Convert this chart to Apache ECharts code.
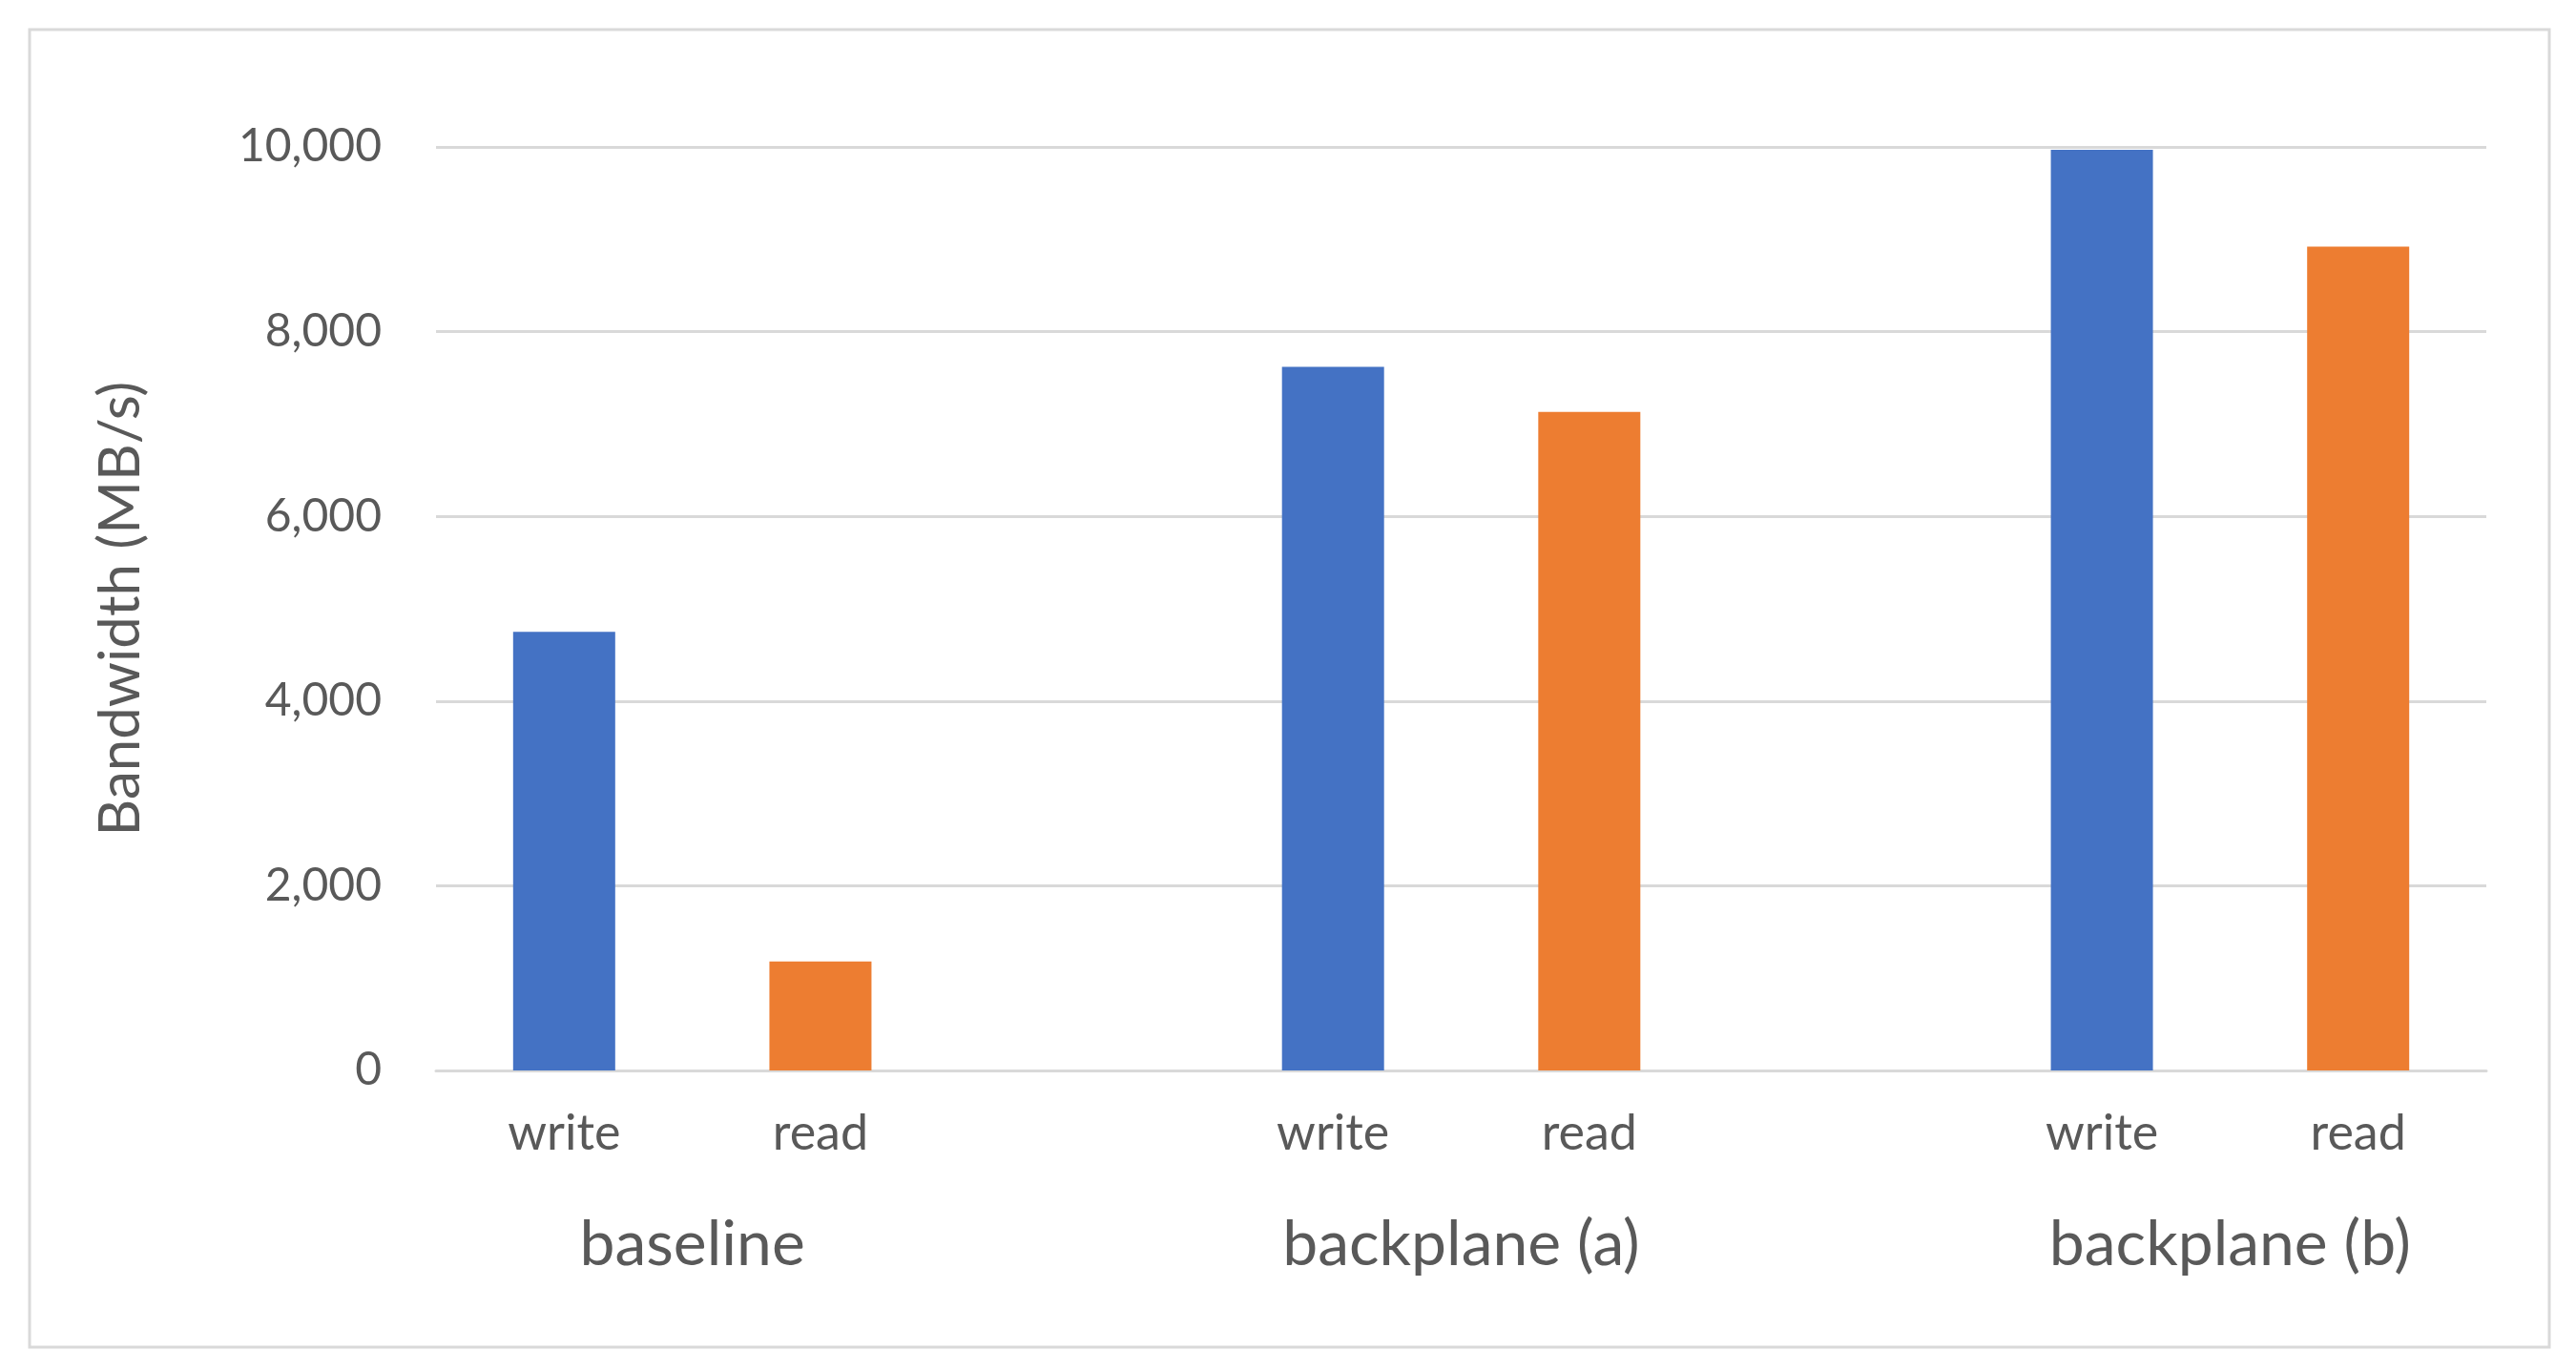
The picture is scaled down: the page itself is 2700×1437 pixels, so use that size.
<!DOCTYPE html>
<html><head><meta charset="utf-8">
<script src="https://cdn.jsdelivr.net/npm/echarts@6/dist/echarts.min.js"></script>
<style>html,body{margin:0;padding:0;background:#fff}#c{width:2700px;height:1437px}</style>
</head><body><div id="c"></div>
<script>
const slots = ['write','read','','write','read','','write','read'];
const groupLabels = ['', 'baseline', '', '', 'backplane (a)', '', '', 'backplane (b)', ''];
const writeValues = [4750, '-', '-', 7620, '-', '-', 9970, '-'];
const readValues = ['-', 1180, '-', '-', 7130, '-', '-', 8920];
const yTicks = [0, 2000, 4000, 6000, 8000, 10000];
const font = 'Lato, "Open Sans", sans-serif';
const chart = echarts.init(document.getElementById('c'));
chart.setOption({
  animation: false,
  graphic: [{type:'rect', shape:{x:31,y:31,width:2641,height:1381}, style:{fill:'none', stroke:'#D9D9D9', lineWidth:3}}],
  grid: {left:457, right:94, top:154, bottom:315},
  xAxis: [
    {type:'category', data:slots, axisTick:{show:false}, axisLine:{lineStyle:{color:'#D9D9D9',width:3}},
     axisLabel:{interval:0, margin:40, fontSize:52, color:'#595959', fontFamily:font}},
    {type:'category', data:groupLabels, boundaryGap:false, position:'bottom', axisLine:{show:false}, axisTick:{show:false},
     axisLabel:{interval:0, margin:150, fontSize:66, color:'#595959', fontFamily:font}}
  ],
  yAxis: {type:'value', min:yTicks[0], max:yTicks[yTicks.length-1], interval:2000,
    name:'Bandwidth (MB/s)', nameLocation:'middle', nameGap:300, nameTextStyle:{fontSize:60, color:'#595959', fontFamily:font},
    axisLine:{show:false}, axisTick:{show:false},
    axisLabel:{margin:57, fontSize:48, color:'#595959', fontFamily:font, formatter:v=>v.toLocaleString('en-US')},
    splitLine:{lineStyle:{color:'#D9D9D9', width:3}}},
  series: [
    {type:'bar', data:writeValues, barWidth:107, barGap:'-100%', itemStyle:{color:'#4472C4'}},
    {type:'bar', data:readValues, barWidth:107, itemStyle:{color:'#ED7D31'}}
  ]
});
</script></body></html>
